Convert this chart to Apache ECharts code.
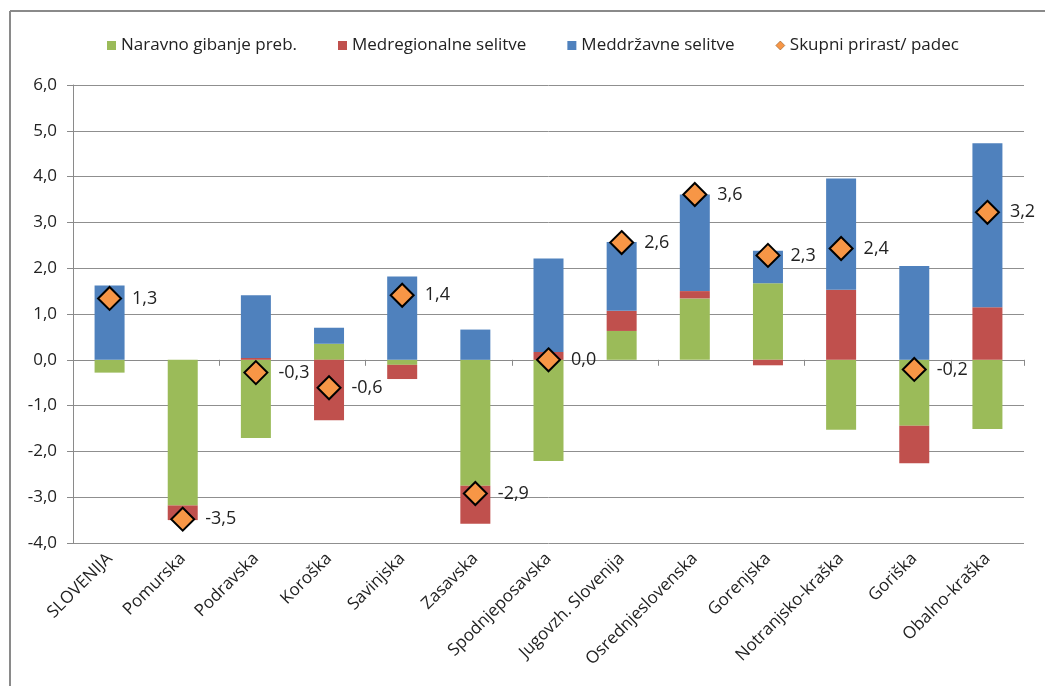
<!DOCTYPE html>
<html>
<head>
<meta charset="utf-8">
<script src="https://cdn.jsdelivr.net/npm/echarts@6/dist/echarts.min.js"></script>
<style>
html,body{margin:0;padding:0;background:#fff;}
#chart{width:1045px;height:686px;}
</style>
</head>
<body>
<div id="chart"></div>
<script>
const categories = ['SLOVENIJA','Pomurska','Podravska','Koroška','Savinjska','Zasavska','Spodnjeposavska','Jugovzh. Slovenija','Osrednjeslovenska','Gorenjska','Notranjsko-kraška','Goriška','Obalno-kraška'];
const naravno = [-0.28, -3.18, -1.71, 0.35, -0.11, -2.75, -2.21, 0.63, 1.34, 1.67, -1.53, -1.44, -1.51];
const medregionalne = [0.00, -0.32, 0.04, -1.32, -0.31, -0.83, 0.17, 0.44, 0.16, -0.12, 1.53, -0.82, 1.15];
const meddrzavne = [1.62, 0.00, 1.37, 0.35, 1.82, 0.66, 2.04, 1.50, 2.11, 0.71, 2.43, 2.05, 3.58];
const skupni = [1.34, -3.48, -0.28, -0.61, 1.41, -2.92, 0.00, 2.56, 3.61, 2.28, 2.43, -0.21, 3.22];
const yTicks = [-4, -3, -2, -1, 0, 1, 2, 3, 4, 5, 6];

const FONT = '"Open Sans"';
const fmt = v => v.toFixed(1).replace('.', ',');

const chart = echarts.init(document.getElementById('chart'));
chart.setOption({
  animation: false,
  textStyle: { fontFamily: FONT },
  legend: {
    top: 32,
    left: 102,
    itemWidth: 9,
    itemHeight: 9,
    itemGap: 41,
    textStyle: { fontSize: 17, color: '#222', fontFamily: FONT },
    data: [
      { name: 'Naravno gibanje preb.', icon: 'rect' },
      { name: 'Medregionalne selitve', icon: 'rect' },
      { name: 'Meddržavne selitve', icon: 'rect' },
      { name: 'Skupni prirast/ padec', icon: 'diamond', itemStyle: { borderWidth: 0.5, borderColor: '#7a4a1a' } }
    ]
  },
  grid: { left: 73, right: 21, top: 85, bottom: 143, containLabel: false },
  xAxis: [
    {
      type: 'category',
      data: categories,
      position: 'bottom',
      axisLine: { show: false, onZero: false },
      axisTick: { show: false },
      axisLabel: { rotate: 45, fontSize: 17, color: '#222', margin: 13, interval: 0, fontFamily: FONT }
    },
    {
      type: 'category',
      data: categories,
      position: 'bottom',
      axisLine: { show: true, onZero: true, lineStyle: { color: '#8a8a8a', width: 1 } },
      axisTick: { show: true, length: 6, lineStyle: { color: '#8a8a8a' } },
      axisLabel: { show: false }
    }
  ],
  yAxis: {
    type: 'value',
    min: yTicks[0],
    max: yTicks[yTicks.length - 1],
    interval: 1,
    axisLine: { show: true, lineStyle: { color: '#8a8a8a' } },
    axisTick: { show: true, length: 6, lineStyle: { color: '#8a8a8a' } },
    axisLabel: { fontSize: 17, color: '#222', margin: 16, formatter: v => fmt(v), fontFamily: FONT },
    splitLine: { lineStyle: { color: '#8f8f8f', width: 1 } }
  },
  series: [
    {
      name: 'Naravno gibanje preb.', type: 'bar', stack: 'total', barWidth: 30,
      itemStyle: { color: '#9BBB59' }, data: naravno
    },
    {
      name: 'Medregionalne selitve', type: 'bar', stack: 'total', barWidth: 30,
      itemStyle: { color: '#C0504D' }, data: medregionalne
    },
    {
      name: 'Meddržavne selitve', type: 'bar', stack: 'total', barWidth: 30,
      itemStyle: { color: '#4F81BD' }, data: meddrzavne
    },
    {
      name: 'Skupni prirast/ padec', type: 'scatter', symbol: 'diamond', symbolSize: 23, z: 5,
      itemStyle: { color: '#F79646', borderColor: '#000', borderWidth: 2, opacity: 1 },
      label: {
        show: true, position: 'right', distance: 10, fontSize: 18, color: '#222', fontFamily: FONT,
        formatter: p => fmt(p.value)
      },
      data: skupni
    }
  ],
  graphic: [
    { type: 'line', shape: { x1: 10, y1: 11, x2: 1045, y2: 11 }, style: { stroke: '#8a8a8a', lineWidth: 2 } },
    { type: 'line', shape: { x1: 10, y1: 11, x2: 10, y2: 686 }, style: { stroke: '#8a8a8a', lineWidth: 2 } }
  ]
});
</script>
</body>
</html>
